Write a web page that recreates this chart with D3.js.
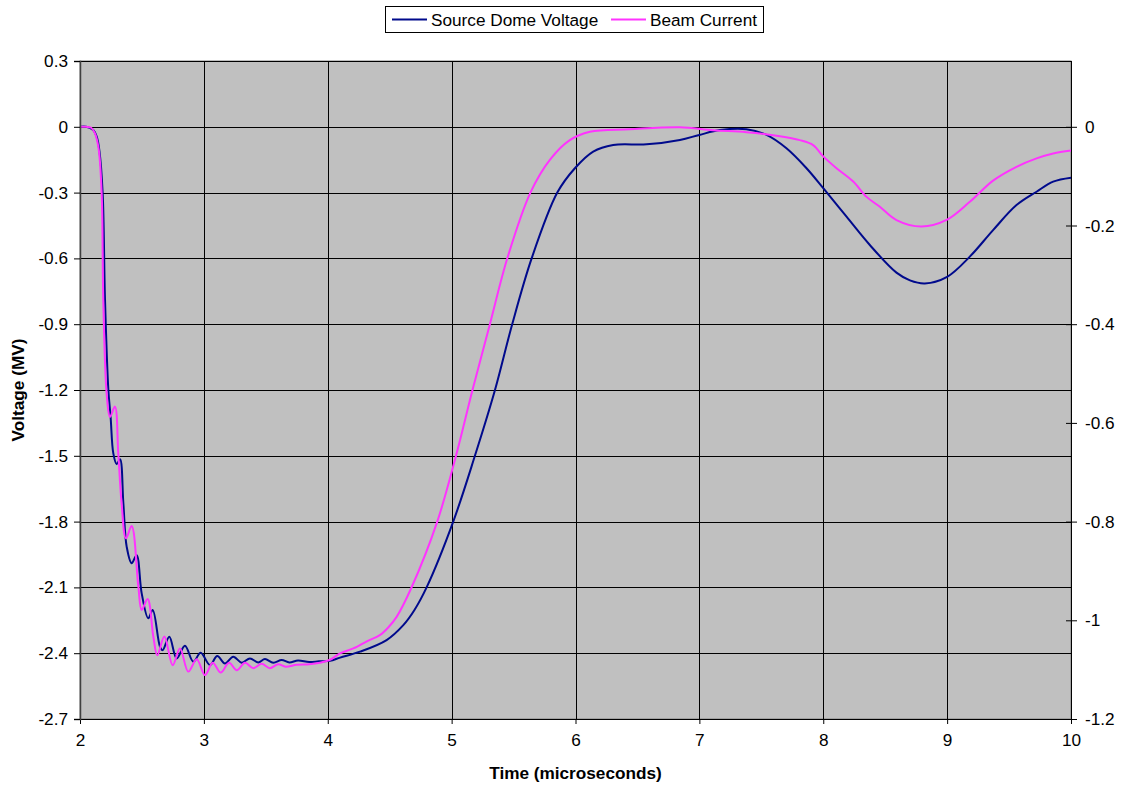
<!DOCTYPE html>
<html>
<head>
<meta charset="utf-8">
<script src="https://cdn.jsdelivr.net/npm/d3@7"></script>
<style>
  html, body { margin: 0; padding: 0; background: #fff; }
  svg { display: block; font-family: "Liberation Sans", Arial, sans-serif; }
</style>
</head>
<body>
<svg id="chart" width="1122" height="787"></svg>
<script>
// ---------------- DATA ----------------
const seriesNames = ["Source Dome Voltage", "Beam Current"];

// Source Dome Voltage (MV), left axis
const voltageTime = [2.00, 2.05, 2.107, 2.135, 2.156, 2.183, 2.202, 2.229, 2.247, 2.269, 2.296, 2.323, 2.35, 2.377, 2.417, 2.457, 2.498, 2.551, 2.587, 2.646, 2.667, 2.721, 2.780, 2.847, 2.915, 2.974, 3.049, 3.108, 3.170, 3.237, 3.305, 3.372, 3.439, 3.493, 3.560, 3.628, 3.69, 3.76, 3.85, 3.93, 4.018, 4.10, 4.26, 4.475, 4.61, 4.70, 4.798, 5.013, 5.188, 5.35, 5.489, 5.646, 5.853, 5.995, 6.143, 6.304, 6.574, 6.843, 7.0, 7.166, 7.38, 7.542, 7.703, 7.865, 8.0, 8.188, 8.376, 8.591, 8.70, 8.82, 9.0, 9.183, 9.371, 9.56, 9.722, 9.856, 10.0];
const voltageValue = [0, 0, -0.015, -0.045, -0.106, -0.303, -0.79, -1.2, -1.322, -1.489, -1.538, -1.516, -1.717, -1.915, -1.99, -1.953, -2.127, -2.241, -2.203, -2.371, -2.386, -2.325, -2.424, -2.366, -2.439, -2.398, -2.454, -2.413, -2.447, -2.416, -2.443, -2.424, -2.442, -2.427, -2.443, -2.431, -2.442, -2.433, -2.440, -2.437, -2.435, -2.42, -2.393, -2.34, -2.272, -2.203, -2.1, -1.8, -1.5, -1.2, -0.9, -0.6, -0.3, -0.189, -0.113, -0.083, -0.080, -0.060, -0.037, -0.015, -0.011, -0.037, -0.098, -0.189, -0.28, -0.41, -0.539, -0.665, -0.700, -0.714, -0.684, -0.592, -0.471, -0.357, -0.296, -0.25, -0.232];

// Beam Current, right axis
const currentTime = [2.00, 2.05, 2.09, 2.12, 2.15, 2.175, 2.188, 2.215, 2.242, 2.282, 2.309, 2.336, 2.371, 2.417, 2.471, 2.498, 2.546, 2.592, 2.624, 2.681, 2.748, 2.807, 2.874, 2.942, 3.009, 3.071, 3.136, 3.203, 3.265, 3.332, 3.399, 3.466, 3.533, 3.60, 3.66, 3.75, 3.85, 3.937, 4.018, 4.099, 4.206, 4.32, 4.42, 4.49, 4.556, 4.677, 4.884, 5.035, 5.169, 5.309, 5.449, 5.637, 5.793, 5.954, 6.116, 6.439, 6.843, 7.11, 7.38, 7.65, 7.81, 7.918, 8.0, 8.107, 8.242, 8.35, 8.457, 8.591, 8.793, 9.0, 9.183, 9.371, 9.56, 9.722, 9.856, 10.0];
const currentValue = [0, 0, -0.002, -0.013, -0.044, -0.135, -0.351, -0.540, -0.588, -0.567, -0.662, -0.763, -0.834, -0.809, -0.932, -0.979, -0.957, -1.033, -1.071, -1.033, -1.091, -1.057, -1.104, -1.079, -1.111, -1.086, -1.106, -1.086, -1.101, -1.086, -1.097, -1.088, -1.097, -1.089, -1.094, -1.090, -1.089, -1.086, -1.080, -1.067, -1.057, -1.042, -1.030, -1.014, -0.993, -0.933, -0.800, -0.667, -0.533, -0.400, -0.267, -0.133, -0.067, -0.027, -0.010, -0.005, -0.001, -0.007, -0.011, -0.019, -0.027, -0.037, -0.060, -0.084, -0.111, -0.142, -0.162, -0.189, -0.202, -0.188, -0.152, -0.109, -0.081, -0.064, -0.054, -0.048];

// Ticks
const xTicks = [2, 3, 4, 5, 6, 7, 8, 9, 10];
const yTicks = [0.3, 0, -0.3, -0.6, -0.9, -1.2, -1.5, -1.8, -2.1, -2.4, -2.7];
const y2Ticks = [0, -0.2, -0.4, -0.6, -0.8, -1, -1.2];

const xTitle = "Time (microseconds)";
const yTitle = "Voltage (MV)";

// ---------------- LAYOUT ----------------
const W = 1122, H = 787;
const plot = { left: 80, top: 61, right: 1071, bottom: 719 };
const colors = { voltage: "#000a8c", current: "#ff33ff" };
const FONT = 17.2;

const svg = d3.select("#chart");

const x = d3.scaleLinear().domain([2, 10]).range([plot.left, plot.right]);
const y = d3.scaleLinear().domain([-2.7, 0.3]).range([plot.bottom, plot.top]);
// secondary axis aligned so that 0 matches 0 on the left axis
const y2 = d3.scaleLinear().domain([-1.2, 1.2 * 0.3 / 2.7]).range([plot.bottom, plot.top]);

const fmt = d => String(+d.toFixed(2));

// plot background
svg.append("rect")
  .attr("x", plot.left).attr("y", plot.top)
  .attr("width", plot.right - plot.left).attr("height", plot.bottom - plot.top)
  .attr("fill", "#c0c0c0").attr("stroke", "#808080").attr("stroke-width", 1);

// gridlines
const grid = svg.append("g").attr("shape-rendering", "crispEdges");
grid.selectAll("line.h").data(yTicks).join("line")
  .attr("x1", plot.left).attr("x2", plot.right)
  .attr("y1", d => Math.round(y(d)) + 0.5).attr("y2", d => Math.round(y(d)) + 0.5)
  .attr("stroke", "#000").attr("stroke-width", 1);
grid.selectAll("line.v").data(xTicks).join("line")
  .attr("y1", plot.top).attr("y2", plot.bottom)
  .attr("x1", d => Math.round(x(d)) + 0.5).attr("x2", d => Math.round(x(d)) + 0.5)
  .attr("stroke", "#000").attr("stroke-width", 1);

// lines
const vData = voltageTime.map((t, i) => [t, voltageValue[i]]);
const cData = currentTime.map((t, i) => [t, currentValue[i]]);

const lineV = d3.line().x(d => x(d[0])).y(d => y(d[1])).curve(d3.curveCatmullRom.alpha(0.5));
const lineC = d3.line().x(d => x(d[0])).y(d => y2(d[1])).curve(d3.curveCatmullRom.alpha(0.5));

svg.append("path").datum(vData).attr("d", lineV)
  .attr("fill", "none").attr("stroke", colors.voltage).attr("stroke-width", 2);
svg.append("path").datum(cData).attr("d", lineC)
  .attr("fill", "none").attr("stroke", colors.current).attr("stroke-width", 2);

// axes
function styleAxis(g) {
  g.selectAll("text").attr("font-size", FONT).attr("fill", "#000")
    .attr("font-family", '"Liberation Sans", Arial, sans-serif');
  g.selectAll("line").attr("stroke", "#000");
  g.select(".domain").attr("stroke", "#000");
}

svg.append("g")
  .attr("transform", `translate(0,${plot.bottom})`)
  .call(d3.axisBottom(x).tickValues(xTicks).tickFormat(fmt).tickSize(5).tickPadding(10))
  .call(styleAxis);

const gy = svg.append("g")
  .attr("transform", `translate(${plot.left},0)`)
  .call(d3.axisLeft(y).tickValues(yTicks).tickFormat(fmt).tickSize(6).tickPadding(6))
  .call(styleAxis);
gy.select(".domain").attr("stroke", "#404040").attr("stroke-width", 1.5);

const gy2 = svg.append("g")
  .attr("transform", `translate(${plot.right},0)`)
  .call(d3.axisRight(y2).tickValues(y2Ticks).tickFormat(fmt).tickSize(6).tickPadding(8).tickSizeOuter(0))
  .call(styleAxis);
gy2.selectAll(".tick line").attr("x1", -5);

// axis titles
svg.append("text")
  .attr("x", (plot.left + plot.right) / 2).attr("y", 779)
  .attr("text-anchor", "middle").attr("font-weight", "bold").attr("font-size", FONT)
  .text(xTitle);
svg.append("text")
  .attr("transform", `translate(24,${(plot.top + plot.bottom) / 2}) rotate(-90)`)
  .attr("text-anchor", "middle").attr("font-weight", "bold").attr("font-size", FONT)
  .text(yTitle);

// legend
const legend = svg.append("g");
legend.append("rect")
  .attr("x", 385.5).attr("y", 6.5).attr("width", 378).attr("height", 26)
  .attr("fill", "#fff").attr("stroke", "#000").attr("stroke-width", 1);
const legItems = [
  { name: seriesNames[0], color: colors.voltage, x0: 392 },
  { name: seriesNames[1], color: colors.current, x0: 611 }
];
legItems.forEach(it => {
  legend.append("line")
    .attr("x1", it.x0).attr("x2", it.x0 + 35).attr("y1", 19.5).attr("y2", 19.5)
    .attr("stroke", it.color).attr("stroke-width", 2);
  legend.append("text")
    .attr("x", it.x0 + 39).attr("y", 19.5).attr("dy", "0.35em")
    .attr("font-size", FONT).text(it.name);
});
</script>
</body>
</html>
